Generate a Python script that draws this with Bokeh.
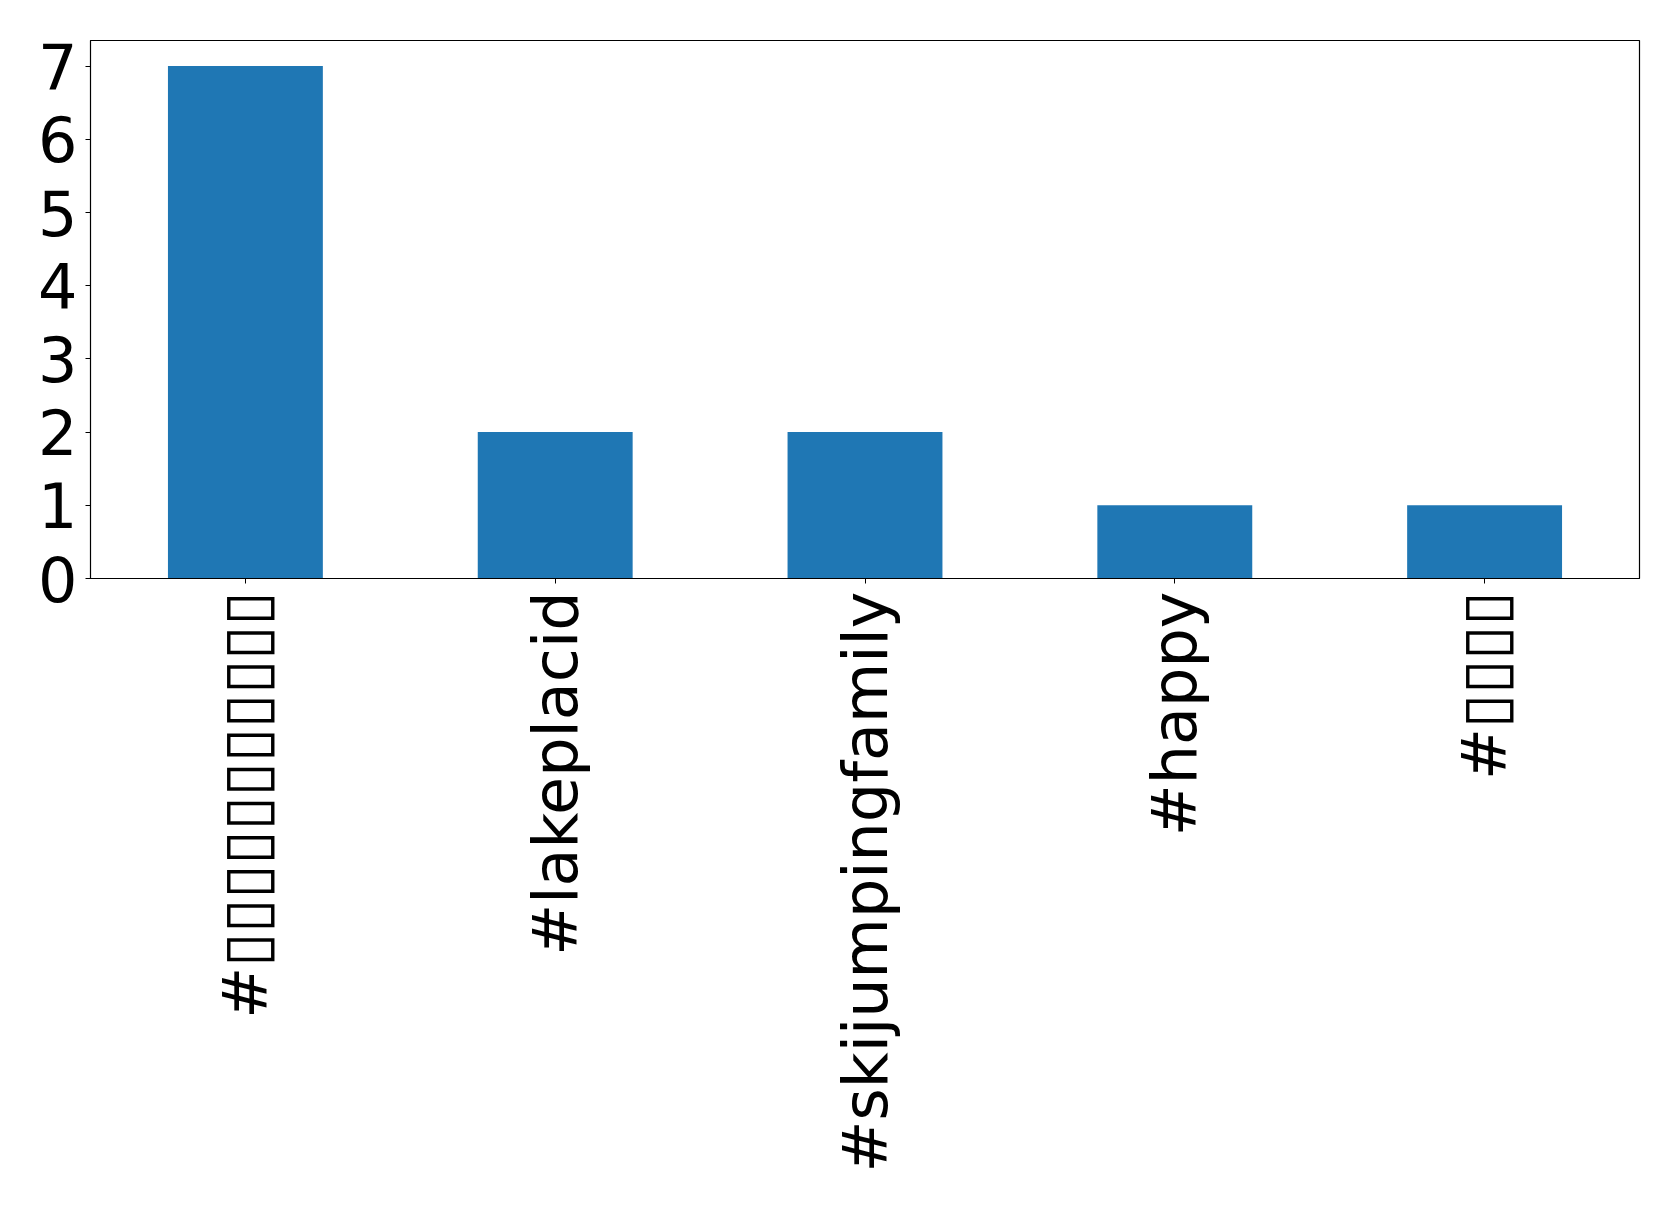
import math
from bokeh.plotting import figure
from bokeh.models import FixedTicker, Range1d, FactorRange
from bokeh.embed import file_html
from bokeh.resources import INLINE

# Data (glyphs missing in the source render are shown as ▯)
categories = ["#▯▯▯▯▯▯▯▯▯▯▯", "#lakeplacid", "#skijumpingfamily", "#happy", "#▯▯▯▯"]
counts = [7, 2, 2, 1, 1]
y_ticks = [0, 1, 2, 3, 4, 5, 6, 7]

p = figure(
    x_range=FactorRange(factors=categories, range_padding=0),
    y_range=Range1d(0, 7.35),
    width=1663, height=1197,
    output_backend="svg", toolbar_location=None,
    min_border_left=90, min_border_top=40, min_border_right=24, min_border_bottom=619,
)

p.vbar(x=categories, top=counts, width=0.5, color="#1f77b4", line_color=None)

p.xgrid.visible = False
p.ygrid.visible = False
p.outline_line_color = "black"
p.outline_line_width = 1.2
p.background_fill_color = "white"
p.border_fill_color = "white"

font = "DejaVu Sans"
p.yaxis.ticker = FixedTicker(ticks=y_ticks)
p.yaxis.minor_tick_line_color = None
p.yaxis.major_label_text_font = font
p.yaxis.major_label_text_font_size = "62px"
p.yaxis.major_label_text_color = "black"
p.yaxis.major_tick_out = 5
p.yaxis.major_tick_in = 0
p.yaxis.major_label_standoff = 8
p.yaxis.axis_line_color = "black"

p.xaxis.major_label_orientation = math.pi / 2
p.xaxis.major_label_text_font = font
p.xaxis.major_label_text_font_size = "62px"
p.xaxis.major_label_text_color = "black"
p.xaxis.major_tick_out = 5
p.xaxis.major_tick_in = 0
p.xaxis.major_label_standoff = 8
p.xaxis.axis_line_color = "black"

open("out.html", "w").write(file_html(p, INLINE))
